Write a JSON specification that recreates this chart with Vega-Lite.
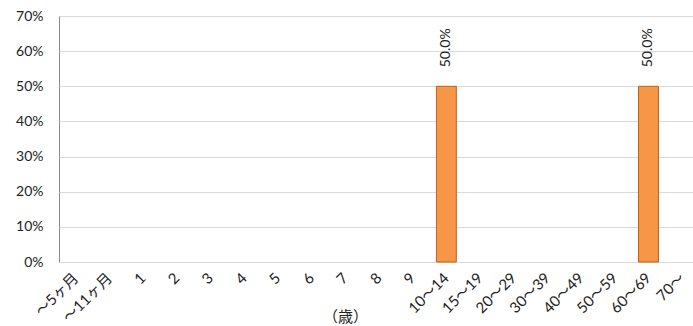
{
  "$schema": "https://vega.github.io/schema/vega-lite/v6.json",
  "width": 640,
  "height": 246,
  "autosize": {"type": "none"},
  "padding": {"left": 59, "top": 16, "right": 0, "bottom": 64},
  "background": "white",
  "config": {
    "view": {"stroke": "#8c8c8c", "strokeWidth": 1},
    "font": "Lato, Noto Sans CJK JP"
  },
  "data": {
    "values": [
      {"age": "~5ヶ月", "v": 0},
      {"age": "~11ヶ月", "v": 0},
      {"age": "1", "v": 0},
      {"age": "2", "v": 0},
      {"age": "3", "v": 0},
      {"age": "4", "v": 0},
      {"age": "5", "v": 0},
      {"age": "6", "v": 0},
      {"age": "7", "v": 0},
      {"age": "8", "v": 0},
      {"age": "9", "v": 0},
      {"age": "10~14", "v": 0.5},
      {"age": "15~19", "v": 0},
      {"age": "20~29", "v": 0},
      {"age": "30~39", "v": 0},
      {"age": "40~49", "v": 0},
      {"age": "50~59", "v": 0},
      {"age": "60~69", "v": 0.5},
      {"age": "70~", "v": 0}
    ]
  },
  "encoding": {
    "x": {
      "field": "age",
      "type": "nominal",
      "sort": null,
      "scale": {"paddingInner": 0.41, "paddingOuter": 0.205},
      "axis": {
        "title": "（歳）",
        "titleFont": "Noto Sans CJK JP",
        "titleFontSize": 15,
        "titleFontWeight": "normal",
        "titleColor": "#222",
        "titleX": 286,
        "titleY": 54,
        "titleBaseline": "middle",
        "titleAnchor": "middle",
        "titleAlign": "center",
        "labelAngle": -45,
        "labelAlign": "right",
        "labelBaseline": "middle",
        "labelFontSize": 15,
        "labelColor": "#222",
        "labelPadding": 13,
        "labelExpr": "replace(datum.label, '~', '〜')",
        "ticks": false,
        "domain": false,
        "grid": false
      }
    },
    "y": {
      "field": "v",
      "type": "quantitative",
      "scale": {"domain": [0, 0.7], "nice": false},
      "axis": {
        "title": null,
        "values": [0, 0.1, 0.2, 0.3, 0.4, 0.5, 0.6, 0.7],
        "format": ".0%",
        "labelFontSize": 14,
        "labelColor": "#222",
        "labelPadding": 16,
        "ticks": false,
        "domain": false,
        "gridColor": "#d9d9d9",
        "gridWidth": 1
      }
    }
  },
  "layer": [
    {
      "mark": {"type": "bar", "fill": "#F79646", "strokeWidth": 1},
      "encoding": {
        "stroke": {
          "condition": {"test": "datum.v > 0", "value": "#B5651D"},
          "value": null
        }
      }
    },
    {
      "mark": {"type": "rule", "color": "#8c8c8c", "strokeWidth": 1.5},
      "encoding": {
        "x": {"value": 0},
        "x2": {"value": 640},
        "y": {"datum": 0}
      },
      "data": {"values": [{}]}
    },
    {
      "transform": [{"filter": "datum.v > 0"}],
      "mark": {
        "type": "text",
        "angle": -90,
        "align": "left",
        "baseline": "middle",
        "dx": 19,
        "fontSize": 14,
        "color": "#222"
      },
      "encoding": {
        "text": {"field": "v", "type": "quantitative", "format": ".1%"}
      }
    }
  ]
}
